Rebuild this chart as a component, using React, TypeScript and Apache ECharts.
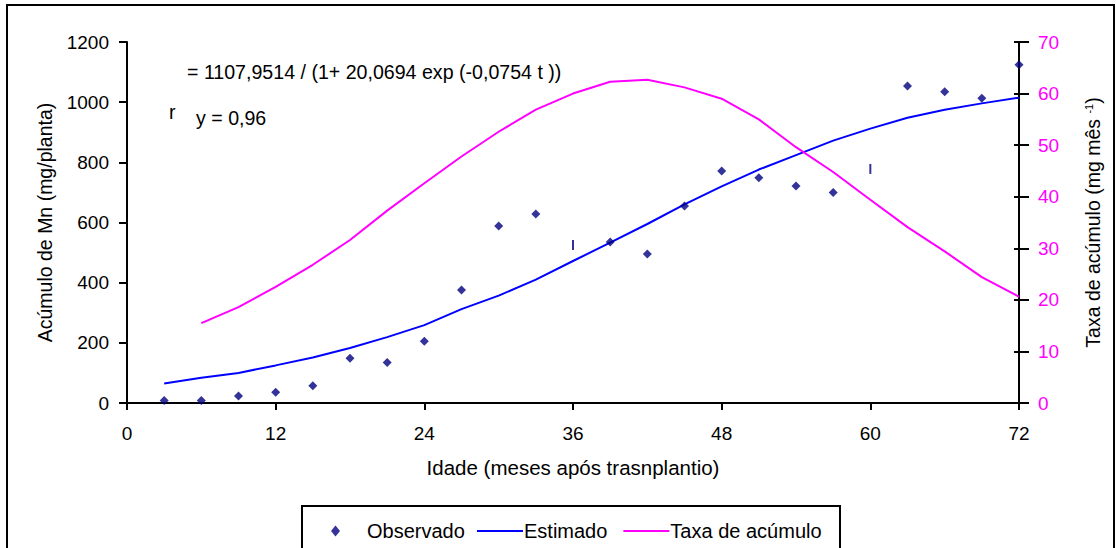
import React, { useEffect, useRef } from "react";
import * as echarts from "echarts";

const ages = [3, 6, 9, 12, 15, 18, 21, 24, 27, 30, 33, 36, 39, 42, 45, 48, 51, 54, 57, 60, 63, 66, 69, 72];
const observed = [8, 8, 23, 36, 57, 149, 135, 205, 376, 588, 628, 525, 535, 495, 655, 771, 749, 721, 700, 778, 1054, 1035, 1013, 1124];
const estimated = [65, 84, 100, 125, 151, 183, 219, 259, 312, 357, 410, 472, 533, 595, 660, 720, 776, 824, 872, 912, 948, 975, 996, 1015];
const rateAges = [6, 9, 12, 15, 18, 21, 24, 27, 30, 33, 36, 39, 42, 45, 48, 51, 54, 57, 60, 63, 66, 69, 72];
const rate = [15.5, 18.6, 22.5, 26.8, 31.6, 37.3, 42.6, 47.8, 52.6, 56.9, 60.0, 62.3, 62.7, 61.2, 59.0, 55.0, 49.6, 44.8, 39.4, 34.1, 29.4, 24.4, 20.6];
const barMarkedAges = [36, 60];
const xTicks = { min: 0, max: 72, interval: 12 };
const leftTicks = { min: 0, max: 1200, interval: 200 };
const rightTicks = { min: 0, max: 70, interval: 10 };

const FONT = "'Liberation Sans', Arial, sans-serif";

export default function App() {
  const ref = useRef<HTMLDivElement>(null);
  useEffect(() => {
    if (!ref.current) return;
    const chart = echarts.init(ref.current, undefined, { renderer: "svg" });
    const navy = "#000080";
    const obsData = ages.map((a, i) =>
      barMarkedAges.includes(a)
        ? { value: [a, observed[i]], symbol: "rect", symbolSize: [2, 10] }
        : { value: [a, observed[i]] }
    );
    const axisLine = { show: true, lineStyle: { color: "#000", width: 2 } };
    const plain = (v: number) => String(v);
    chart.setOption({
      animation: false,
      textStyle: { fontFamily: FONT },
      grid: { left: 127, right: 97, top: 42, bottom: 145 },
      xAxis: {
        type: "value",
        ...xTicks,
        axisLine,
        axisTick: { show: true, length: 7, lineStyle: { color: "#000", width: 2 } },
        axisLabel: { color: "#000", fontSize: 19, margin: 21, fontFamily: FONT, formatter: plain },
        splitLine: { show: false },
        name: "Idade (meses após trasnplantio)",
        nameLocation: "middle",
        nameGap: 54,
        nameTextStyle: { color: "#000", fontSize: 20.5, fontFamily: FONT },
      },
      yAxis: [
        {
          type: "value",
          ...leftTicks,
          position: "left",
          axisLine,
          axisTick: { show: true, length: 8, lineStyle: { color: "#000", width: 2 } },
          axisLabel: { color: "#000", fontSize: 19, margin: 18, fontFamily: FONT, formatter: plain },
          splitLine: { show: false },
          name: "Acúmulo de Mn (mg/planta)",
          nameLocation: "middle",
          nameRotate: 90,
          nameGap: 72,
          nameTextStyle: { color: "#000", fontSize: 19.5, fontFamily: FONT },
        },
        {
          type: "value",
          ...rightTicks,
          position: "right",
          axisLine,
          axisTick: { show: true, length: 10, lineStyle: { color: "#000", width: 2 } },
          axisLabel: { color: "#FF00FF", fontSize: 19, margin: 19, fontFamily: FONT, formatter: plain },
          splitLine: { show: false },
          name: "Taxa de acúmulo (mg mês {sup|-1})",
          nameLocation: "middle",
          nameRotate: 90,
          nameGap: 64,
          nameTextStyle: {
            color: "#000",
            fontSize: 19.5,
            fontFamily: FONT,
            rich: { sup: { fontSize: 11, color: "#000", fontFamily: FONT, verticalAlign: "top", padding: [0, 0, 6, 0] } },
          },
        },
        {
          type: "value",
          ...rightTicks,
          position: "right",
          axisLine: { show: false },
          axisTick: { show: true, inside: true, length: 5, lineStyle: { color: "#000", width: 2 } },
          axisLabel: { show: false },
          splitLine: { show: false },
        },
      ],
      legend: [
        {
          data: ["Observado"],
          left: 326,
          top: 516,
          itemWidth: 9,
          itemHeight: 11,
          icon: "diamond",
          textStyle: { fontSize: 20, color: "#000", fontFamily: FONT, padding: [0, 0, 0, 22] },
        },
        {
          data: [
            { name: "Estimado", icon: "rect" },
            { name: "Taxa de acúmulo", icon: "rect" },
          ],
          left: 472,
          top: 516,
          itemWidth: 46,
          itemHeight: 2,
          itemGap: 16,
          textStyle: { fontSize: 20, color: "#000", fontFamily: FONT, padding: [0, 0, 0, -4] },
        },
      ],
      graphic: [
        {
          type: "rect",
          shape: { x: 7, y: 5, width: 1107, height: 600 },
          style: { fill: "none", stroke: "#000", lineWidth: 2 },
          silent: true,
          z: -1,
        },
        {
          type: "rect",
          shape: { x: 302, y: 506, width: 538, height: 60 },
          style: { fill: "none", stroke: "#000", lineWidth: 2 },
          silent: true,
        },
        {
          type: "text",
          x: 187,
          y: 72,
          style: {
            text: "= 1107,9514 / (1+ 20,0694 exp (-0,0754 t ))",
            fontSize: 19.6,
            fontFamily: FONT,
            fill: "#000",
            verticalAlign: "middle",
          },
        },
        {
          type: "text",
          x: 169,
          y: 112,
          style: { text: "r", fontSize: 19.6, fontFamily: FONT, fill: "#000", verticalAlign: "middle" },
        },
        {
          type: "text",
          x: 196,
          y: 118,
          style: { text: "y = 0,96", fontSize: 19.6, fontFamily: FONT, fill: "#000", verticalAlign: "middle" },
        },
      ],
      series: [
        {
          name: "Observado",
          type: "scatter",
          yAxisIndex: 0,
          symbol: "diamond",
          symbolSize: [9, 9],
          itemStyle: { color: navy },
          data: obsData,
          z: 5,
        },
        {
          name: "Estimado",
          type: "line",
          yAxisIndex: 0,
          showSymbol: false,
          symbol: "none",
          lineStyle: { color: "#0000FF", width: 2 },
          itemStyle: { color: "#0000FF" },
          data: ages.map((a, i) => [a, estimated[i]]),
        },
        {
          name: "Taxa de acúmulo",
          type: "line",
          yAxisIndex: 1,
          showSymbol: false,
          symbol: "none",
          lineStyle: { color: "#FF00FF", width: 2 },
          itemStyle: { color: "#FF00FF" },
          data: rateAges.map((a, i) => [a, rate[i]]),
        },
      ],
    });
    return () => chart.dispose();
  }, []);
  return (
    <div
      ref={ref}
      style={{ position: "fixed", left: 0, top: 0, width: 1116, height: 548, background: "#fff" }}
    />
  );
}
